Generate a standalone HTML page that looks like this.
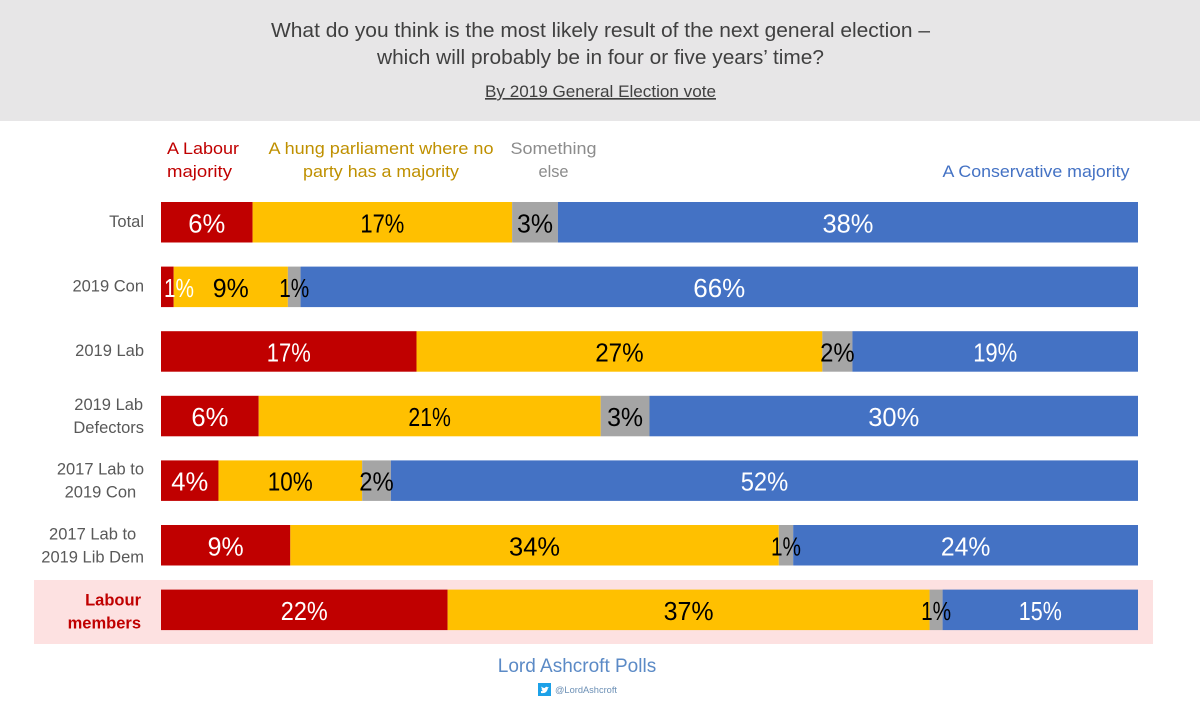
<!DOCTYPE html>
<html lang="en">
<head>
<meta charset="utf-8">
<title>Most likely result of the next general election</title>
<style>
html,body{margin:0;padding:0;background:#fff;width:1200px;height:712px;overflow:hidden}
svg{display:block}
text{font-family:"Liberation Sans",sans-serif}
</style>
</head>
<body>
<svg id="chart" width="1200" height="712" viewBox="0 0 1200 712" xmlns="http://www.w3.org/2000/svg">
  <rect x="0" y="0" width="1200" height="121" fill="#e7e6e7"/>
  <text x="600.5" y="37" text-anchor="middle" font-size="20.5" fill="#404040" textLength="659" lengthAdjust="spacingAndGlyphs">What do you think is the most likely result of the next general election –</text>
  <text x="600.5" y="64" text-anchor="middle" font-size="20.5" fill="#404040" textLength="447" lengthAdjust="spacingAndGlyphs">which will probably be in four or five years’ time?</text>
  <text x="600.5" y="97" text-anchor="middle" font-size="16.5" fill="#404040" textLength="231" lengthAdjust="spacingAndGlyphs" text-decoration="underline">By 2019 General Election vote</text>

  <g>
    <text x="167" y="154" font-size="17" fill="#c00000" textLength="72" lengthAdjust="spacingAndGlyphs">A Labour</text>
    <text x="167" y="177" font-size="17" fill="#c00000" textLength="65" lengthAdjust="spacingAndGlyphs">majority</text>
    <text x="381" y="154" text-anchor="middle" font-size="17" fill="#bf9000" textLength="225" lengthAdjust="spacingAndGlyphs">A hung parliament where no</text>
    <text x="381" y="177" text-anchor="middle" font-size="17" fill="#bf9000" textLength="156" lengthAdjust="spacingAndGlyphs">party has a majority</text>
    <text x="553.5" y="154" text-anchor="middle" font-size="17" fill="#8c8c8c" textLength="86" lengthAdjust="spacingAndGlyphs">Something</text>
    <text x="553.5" y="177" text-anchor="middle" font-size="17" fill="#8c8c8c" textLength="30" lengthAdjust="spacingAndGlyphs">else</text>
    <text x="1036" y="177" text-anchor="middle" font-size="17" fill="#4472c4" textLength="187" lengthAdjust="spacingAndGlyphs">A Conservative majority</text>
  </g>

  <rect x="34" y="580" width="1119" height="64" fill="#fde1e1"/>
  <g id="bars"></g>
  <g id="cats"></g>

  <text x="577" y="672" text-anchor="middle" font-size="19" fill="#5b8ac6">Lord Ashcroft Polls</text>
  <g>
    <rect x="538" y="683" width="13" height="13" fill="#1da1e8"/>
    <path d="M541 693 q6 1 7-5 l1-1 -1.500 .2 q-1.500-1.200-2.800 .8 q-2 0-3.200-1.500 q-.5 1.500 .8 2.600 l-.8 0 q.3 1.500 1.500 1.800 q-.5 .5-2 .1z" fill="#fff"/>
    <text x="555" y="693" font-size="9" fill="#6b8fb5" textLength="62" lengthAdjust="spacingAndGlyphs">@LordAshcroft</text>
  </g>
</svg>
<script>
const categories = [
  ["Total"],
  ["2019 Con"],
  ["2019 Lab"],
  ["2019 Lab", "Defectors"],
  ["2017 Lab to", "2019 Con"],
  ["2017 Lab to", "2019 Lib Dem"],
  ["Labour", "members"]
];
const labourMajority = [6, 1, 17, 6, 4, 9, 22];
const hungParliament = [17, 9, 27, 21, 10, 34, 37];
const somethingElse = [3, 1, 2, 3, 2, 1, 1];
const conservativeMajority = [38, 66, 19, 30, 52, 24, 15];

const NS = "http://www.w3.org/2000/svg";
const series = [
  {name: "labour", values: labourMajority, fill: "#c00000", ink: "#ffffff"},
  {name: "hung", values: hungParliament, fill: "#ffc000", ink: "#000000"},
  {name: "something-else", values: somethingElse, fill: "#a5a5a5", ink: "#000000"},
  {name: "conservative", values: conservativeMajority, fill: "#4472c4", ink: "#ffffff"}
];
const plotLeft = 161, plotRight = 1138, plotTop = 202, rowStep = 64.6, barHeight = 40.5;
const labelSize = 26;
const glyphWidth = {0:15, 1:8, 2:12.5, 3:14, 4:15, 5:13, 6:15, 7:14, 8:15, 9:14};
const labelWidth = v => String(v).split("").reduce((w, d) => w + glyphWidth[d], 22);
function xScale(share) { return plotLeft + share * (plotRight - plotLeft); }
function yScale(i) { return plotTop + i * rowStep; }

const barsG = document.getElementById("bars");
const catsG = document.getElementById("cats");

categories.forEach((lines, i) => {
  const total = series.reduce((sum, s) => sum + s.values[i], 0);
  const y = yScale(i);
  let running = 0;
  series.forEach(s => {
    const v = s.values[i];
    const x0 = xScale(running / total);
    const x1 = xScale((running + v) / total);
    running += v;
    const r = document.createElementNS(NS, "rect");
    r.setAttribute("x", x0);
    r.setAttribute("y", y);
    r.setAttribute("width", x1 - x0);
    r.setAttribute("height", barHeight);
    r.setAttribute("fill", s.fill);
    
    
    barsG.appendChild(r);
  });
  running = 0;
  series.forEach((s, k) => {
    const v = s.values[i];
    const x0 = xScale(running / total);
    const x1 = xScale((running + v) / total);
    running += v;
    const w = labelWidth(v);
    let cx = (x0 + x1) / 2;
    if (k === 0) cx = Math.max(cx, x0 + w / 2 + 3);
    const t = document.createElementNS(NS, "text");
    t.setAttribute("x", cx);
    t.setAttribute("y", y + barHeight / 2 + 10);
    t.setAttribute("text-anchor", "middle");
    t.setAttribute("font-size", labelSize);
    t.setAttribute("textLength", w);
    t.setAttribute("lengthAdjust", "spacingAndGlyphs");
    t.setAttribute("fill", s.ink);
    
    
    t.textContent = v + "%";
    barsG.appendChild(t);
  });
  const isHighlight = i === categories.length - 1;
  const mid = y + barHeight / 2;
  const nodes = lines.map((line, n) => {
    const t = document.createElementNS(NS, "text");
    const dy = isHighlight ? -4.5 : -6;
    t.setAttribute("y", lines.length === 1 ? mid + 4.5 : mid + dy + n * 23);
    t.setAttribute("font-size", 16.5);
    t.setAttribute("fill", isHighlight ? "#c00000" : "#595959");
    if (isHighlight) t.setAttribute("font-weight", "bold");
    
    
    t.textContent = line;
    catsG.appendChild(t);
    return t;
  });
  const blockWidth = Math.max(...nodes.map(t => t.getComputedTextLength()));
  nodes.forEach(t => {
    if (isHighlight || lines.length === 1) {
      t.setAttribute("x", isHighlight ? 141 : 144);
      t.setAttribute("text-anchor", "end");
    } else {
      t.setAttribute("x", 144 - blockWidth / 2);
      t.setAttribute("text-anchor", "middle");
    }
  });
});
</script>
</body>
</html>
